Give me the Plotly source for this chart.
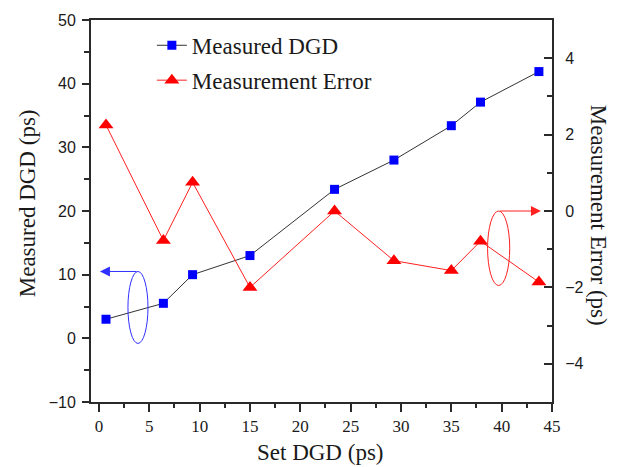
import plotly.graph_objects as go

set_dgd = [0.7, 6.4, 9.3, 15.0, 23.4, 29.3, 35.0, 37.9, 43.7]
measured_dgd = [3.0, 5.5, 10.0, 13.0, 23.4, 28.0, 33.4, 37.1, 41.9]
meas_error = [2.25, -0.77, 0.75, -2.0, 0.0, -1.3, -1.56, -0.79, -1.86]

SERIF = "Liberation Serif, Times New Roman, serif"
SANS = "Liberation Sans, Arial, sans-serif"
AX = "#2a2a2a"
TXT = "#1a1a1a"

fig = go.Figure()
fig.add_trace(go.Scatter(
    x=set_dgd, y=measured_dgd, name="Measured DGD", mode="lines+markers",
    line=dict(color="#333333", width=1),
    marker=dict(symbol="square", color="#0000ff", size=9),
    legendgroup="a", yaxis="y"))
fig.add_trace(go.Scatter(
    x=set_dgd, y=meas_error, name="Measurement Error", mode="lines+markers",
    line=dict(color="#ff2020", width=1),
    marker=dict(symbol="triangle-up", color="#ff0000", size=13),
    legendgroup="b", yaxis="y2"))

fig.update_layout(
    width=629, height=467,
    margin=dict(l=91, r=77, t=17, b=65),
    paper_bgcolor="white", plot_bgcolor="white",
    showlegend=True,
    legend=dict(x=0.132, y=0.99, xanchor="left", yanchor="top",
                font=dict(family=SERIF, size=23, color=TXT),
                bgcolor="rgba(0,0,0,0)", tracegroupgap=2,
                traceorder="grouped"),
    xaxis=dict(range=[-0.79, 45], tickmode="linear", tick0=0, dtick=5,
               showgrid=False, zeroline=False,
               showline=True, linecolor=AX, linewidth=2, mirror=True,
               ticks="outside", ticklen=8, tickwidth=2, tickcolor=AX,
               minor=dict(dtick=2.5, ticks="outside", ticklen=4, tickwidth=2, tickcolor=AX),
               tickfont=dict(family=SERIF, size=17, color=TXT)),
    yaxis=dict(range=[-10, 50], tickmode="linear", tick0=0, dtick=10,
               showgrid=False, zeroline=False,
               showline=True, linecolor=AX, linewidth=2,
               ticks="outside", ticklen=7, tickwidth=2, tickcolor=AX,
               minor=dict(dtick=5, ticks="outside", ticklen=5, tickwidth=2, tickcolor=AX),
               tickfont=dict(family=SANS, size=16, color=TXT),
               ticklabelstandoff=3),
    yaxis2=dict(range=[-5, 5], tickmode="linear", tick0=0, dtick=2,
                overlaying="y", side="right",
                showgrid=False, zeroline=False,
                showline=True, linecolor=AX, linewidth=2,
                ticks="inside", ticklen=8, tickwidth=2, tickcolor=AX,
                minor=dict(dtick=1, ticks="inside", ticklen=5, tickwidth=2, tickcolor=AX),
                tickfont=dict(family=SANS, size=16, color=TXT),
                ticklabelstandoff=8),
)

# axis titles
fig.add_annotation(text="Set DGD (ps)", xref="paper", yref="paper", x=0.497, y=-0.132,
                   showarrow=False, font=dict(family=SERIF, size=23, color=TXT),
                   xanchor="center", yanchor="middle")
fig.add_annotation(text="Measured DGD (ps)", xref="paper", yref="paper", x=-0.139, y=0.52,
                   showarrow=False, textangle=-90, font=dict(family=SERIF, size=23, color=TXT),
                   xanchor="center", yanchor="middle")
fig.add_annotation(text="Measurement Error (ps)", xref="paper", yref="paper", x=1.100, y=0.49,
                   showarrow=False, textangle=90, font=dict(family=SERIF, size=23, color=TXT),
                   xanchor="center", yanchor="middle")

# ellipses and arrows
fig.add_shape(type="circle", xref="x", yref="y", x0=2.88, x1=4.87, y0=-0.8, y1=10.5,
              line=dict(color="#3030ff", width=1))
fig.add_annotation(x=0.1, y=10.5, ax=3.87, ay=10.5, xref="x", yref="y", axref="x", ayref="y",
                   text="", showarrow=True, arrowhead=2, arrowsize=2.0, arrowwidth=1,
                   arrowcolor="#3030ff")
fig.add_shape(type="circle", xref="x", yref="y2", x0=38.6, x1=40.8, y0=-1.95, y1=0.0,
              line=dict(color="#ff2020", width=1))
fig.add_annotation(x=43.9, y=0.0, ax=39.7, ay=0.0, xref="x", yref="y2", axref="x", ayref="y2",
                   text="", showarrow=True, arrowhead=2, arrowsize=2.0, arrowwidth=1,
                   arrowcolor="#ff2020")

fig.write_html("out.html")
